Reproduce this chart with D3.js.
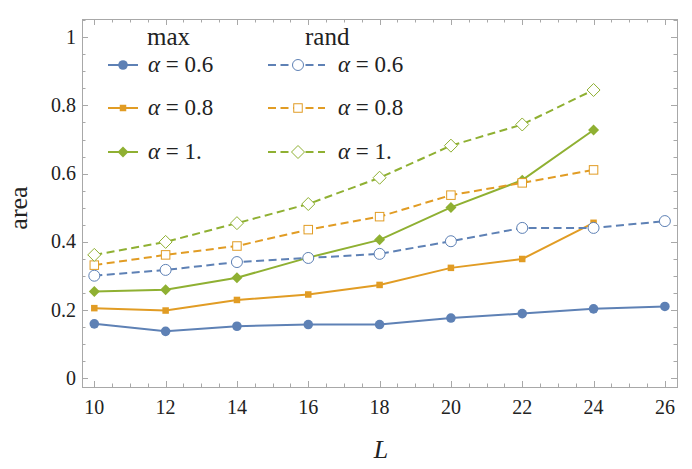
<!DOCTYPE html>
<meta charset="utf-8">
<script src="https://d3js.org/d3.v7.min.js"></script>
<style>
  body { margin: 0; background: #fff; }
</style>
<svg id="chart" width="692" height="469" font-family="'Liberation Serif', 'Times New Roman', serif"></svg>
<script>

// Data
var sizesL = [10, 12, 14, 16, 18, 20, 22, 24, 26];
var maxA06 = [0.160, 0.138, 0.153, 0.158, 0.158, 0.177, 0.190, 0.204, 0.211];
var maxA08 = [0.206, 0.199, 0.230, 0.246, 0.274, 0.324, 0.350, 0.456];
var maxA10 = [0.255, 0.260, 0.295, 0.354, 0.406, 0.501, 0.581, 0.728];
var randA06 = [0.301, 0.318, 0.341, 0.353, 0.365, 0.402, 0.441, 0.441, 0.461];
var randA08 = [0.332, 0.362, 0.388, 0.436, 0.474, 0.537, 0.573, 0.611];
var randA10 = [0.362, 0.400, 0.455, 0.511, 0.588, 0.682, 0.744, 0.845];
var xTicks = [10, 12, 14, 16, 18, 20, 22, 24, 26];
var yTicks = [0, 0.2, 0.4, 0.6, 0.8, 1];
var alphaLabels = ["0.6", "0.8", "1."];

var blue = "#5e81b5", orange = "#e19c24", green = "#8fb032";
var ink = "#222";
var font = "'Liberation Serif', 'Times New Roman', serif";

var svg = d3.select("#chart");

// frame is a bit wider than the data, like Mathematica's padding
var frameL = 82, frameR = 677, frameT = 19, frameB = 387;
var x = d3.scaleLinear().domain([9.655, 26.34]).range([frameL, frameR]);
var y = d3.scaleLinear().domain([-0.025, 1.053]).range([frameB, frameT]);

var series = [
  { vals: maxA06, color: blue, shape: "circle", open: false },
  { vals: maxA08, color: orange, shape: "square", open: false },
  { vals: maxA10, color: green, shape: "diamond", open: false },
  { vals: randA06, color: blue, shape: "circle", open: true },
  { vals: randA08, color: orange, shape: "square", open: true },
  { vals: randA10, color: green, shape: "diamond", open: true }
];

// frame
svg.append("rect")
    .attr("x", frameL + 0.5).attr("y", frameT + 0.5)
    .attr("width", frameR - frameL).attr("height", frameB - frameT)
    .attr("fill", "none").attr("stroke", "#a8a8a8").attr("stroke-width", 1);

// ticks, all four sides, pointing inwards
var xMinor = d3.range(10, 26.4, 0.5);
var yMinor = d3.range(0, 1.06, 0.05);
var tg = svg.append("g").attr("stroke", "#a8a8a8").attr("stroke-width", 1);
xMinor.forEach(function(v) {
  var major = Math.abs(v - Math.round(v)) < 1e-6 && Math.round(v) % 2 === 0;
  var len = major ? 6 : 3.5;
  var px = Math.round(x(v)) + 0.5;
  tg.append("line").attr("x1", px).attr("x2", px).attr("y1", frameB).attr("y2", frameB - len);
  tg.append("line").attr("x1", px).attr("x2", px).attr("y1", frameT).attr("y2", frameT + len);
});
yMinor.forEach(function(v) {
  var major = Math.abs(v * 5 - Math.round(v * 5)) < 1e-6;
  var len = major ? 6 : 3.5;
  var py = Math.round(y(v)) + 0.5;
  tg.append("line").attr("y1", py).attr("y2", py).attr("x1", frameL).attr("x2", frameL + len);
  tg.append("line").attr("y1", py).attr("y2", py).attr("x1", frameR).attr("x2", frameR - len);
});

// tick labels
svg.selectAll(".xl").data(xTicks).enter().append("text")
    .attr("x", function(d) { return x(d); })
    .attr("y", 414)
    .attr("text-anchor", "middle")
    .attr("font-family", font).attr("fill", ink)
    .style("font-size", "20px")
    .text(function(d) { return d; });

svg.selectAll(".yl").data(yTicks).enter().append("text")
    .attr("x", 76)
    .attr("y", function(d) { return y(d) + 6.5; })
    .attr("text-anchor", "end")
    .attr("font-family", font).attr("fill", ink)
    .style("font-size", "20px")
    .text(function(d) { return d === 0 || d === 1 ? d : d.toFixed(1); });

// axis titles
svg.append("text")
    .attr("x", 381).attr("y", 458)
    .attr("text-anchor", "middle")
    .attr("font-family", font).attr("fill", ink)
    .style("font-size", "26px").style("font-style", "italic")
    .text("L");

svg.append("text")
    .attr("transform", "translate(27,208) rotate(-90)")
    .attr("text-anchor", "middle")
    .attr("font-family", font).attr("fill", ink)
    .style("font-size", "26px")
    .text("area");

function drawMarker(g, shape, open, color, cx, cy) {
  var fill = open ? "#fff" : color;
  var sw = open ? 1 : 0;
  if (shape === "circle") {
    g.append("circle").attr("cx", cx).attr("cy", cy).attr("r", open ? 5.5 : 4.8)
      .attr("fill", fill).attr("stroke", color).attr("stroke-width", sw);
  } else if (shape === "square") {
    var s = open ? 8.5 : 6.5;
    g.append("rect").attr("x", cx - s / 2).attr("y", cy - s / 2).attr("width", s).attr("height", s)
      .attr("fill", fill).attr("stroke", color).attr("stroke-width", sw);
  } else {
    var h = open ? 6.5 : 5.5;
    g.append("path").attr("d", "M" + cx + "," + (cy - h) + "L" + (cx + h) + "," + cy + "L" + cx + "," + (cy + h) + "L" + (cx - h) + "," + cy + "Z")
      .attr("fill", fill).attr("stroke", color).attr("stroke-width", sw);
  }
}

var line = d3.line()
    .x(function(d, i) { return x(sizesL[i]); })
    .y(function(d) { return y(d); });

var plot = svg.append("g");
series.forEach(function(s) {
  plot.append("path")
      .datum(s.vals)
      .attr("d", line)
      .attr("fill", "none")
      .attr("stroke", s.color)
      .attr("stroke-width", 2)
      .attr("stroke-dasharray", s.open ? "8,4.5" : null);
});
series.forEach(function(s) {
  s.vals.forEach(function(v, i) {
    drawMarker(plot, s.shape, s.open, s.color, x(sizesL[i]), y(v));
  });
});

// legend
var leg = svg.append("g").attr("font-family", font).attr("fill", ink);
leg.append("text").attr("x", 147).attr("y", 45).style("font-size", "25px").text("max");
leg.append("text").attr("x", 305).attr("y", 45).style("font-size", "25px").text("rand");
var rowY = [65, 108, 152];
series.forEach(function(s, i) {
  var r = i % 3;
  var isRand = i >= 3;
  var x0 = isRand ? 268 : 108, x1 = isRand ? 325 : 138, mx = isRand ? 298 : 123;
  var tx = isRand ? 338 : 148;
  leg.append("line").attr("x1", x0).attr("x2", x1).attr("y1", rowY[r]).attr("y2", rowY[r])
      .attr("stroke", s.color).attr("stroke-width", 2)
      .attr("stroke-dasharray", isRand ? "8,4.5" : null);
  drawMarker(leg, s.shape, s.open, s.color, mx, rowY[r]);
  var t = leg.append("text").attr("x", tx).attr("y", rowY[r] + 7).style("font-size", "23px");
  t.append("tspan").style("font-style", "italic").text("\u03b1");
  t.append("tspan").text(" = " + alphaLabels[r]);
});

</script>
